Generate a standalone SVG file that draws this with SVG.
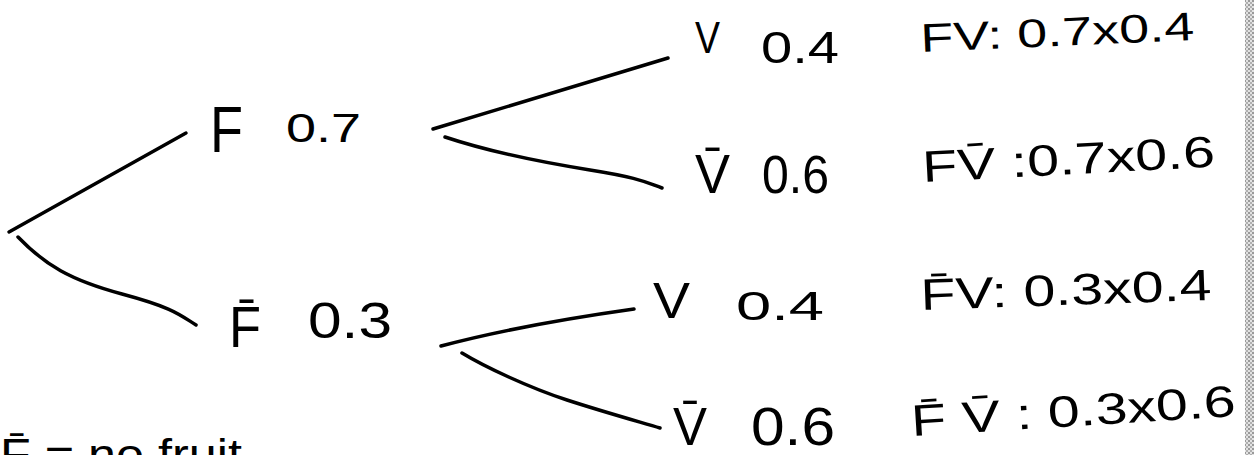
<svg xmlns="http://www.w3.org/2000/svg" width="1254" height="455" viewBox="0 0 1254 455">
<defs>
<style>
.t{font-family:"Liberation Sans","DejaVu Sans",sans-serif;fill:#000;font-weight:400}
.c{fill:none;stroke:#000;stroke-width:3.5;stroke-linecap:round;stroke-linejoin:round}
</style>
<pattern id="scan" width="4" height="4" patternUnits="userSpaceOnUse">
<rect width="4" height="4" fill="#e2e2e2"/>
<rect width="2" height="2" fill="#9a9a9a"/>
<rect x="2" y="2" width="2" height="2" fill="#b0b0b0"/>
</pattern>
</defs>
<rect width="1254" height="455" fill="#fff"/>
<rect x="1245" y="0" width="9" height="455" fill="url(#scan)"/>
<g id="connectors">
<path class="c" d="M9,232 L186,133"/>
<path class="c" d="M18,237 C45,265 70,280 122,294 S180,315 196,325"/>
<path class="c" d="M433,129 L668,58"/>
<path class="c" d="M445,137 C490,152 540,162 590,170 S645,182 662,188"/>
<path class="c" d="M441,346 Q520,325 634,309"/>
<path class="c" d="M462,353 C485,367 530,388 567,400 S640,422 660,428"/>
</g>
<g id="node-F">
<text class="t" x="210" y="152" font-size="64" textLength="33" lengthAdjust="spacingAndGlyphs">F</text>
<text class="t" x="286" y="142" font-size="41" textLength="75" lengthAdjust="spacingAndGlyphs">0.7</text>
</g>
<g id="node-Fbar">
<text class="t" x="229" y="347" font-size="58" textLength="32" lengthAdjust="spacingAndGlyphs">F̄</text>
<text class="t" x="308" y="338" font-size="50" textLength="84" lengthAdjust="spacingAndGlyphs">0.3</text>
</g>
<g id="node-FV">
<text class="t" x="695" y="53" font-size="44" textLength="25" lengthAdjust="spacingAndGlyphs">V</text>
<text class="t" x="761" y="63" font-size="44" textLength="78" lengthAdjust="spacingAndGlyphs">0.4</text>
</g>
<g id="node-FVbar">
<text class="t" x="695" y="193" font-size="56" textLength="35" lengthAdjust="spacingAndGlyphs">V̄</text>
<text class="t" x="762" y="193" font-size="54" textLength="67" lengthAdjust="spacingAndGlyphs">0.6</text>
</g>
<g id="node-FbarV">
<text class="t" x="653" y="318" font-size="50" textLength="37" lengthAdjust="spacingAndGlyphs">V</text>
<text class="t" x="736" y="320" font-size="40" textLength="88" lengthAdjust="spacingAndGlyphs">0.4</text>
</g>
<g id="node-FbarVbar">
<text class="t" x="673" y="445" font-size="54" textLength="34" lengthAdjust="spacingAndGlyphs">V̄</text>
<text class="t" x="751" y="445" font-size="54" textLength="84" lengthAdjust="spacingAndGlyphs">0.6</text>
</g>
<g id="results">
<text class="t" x="921" y="52" font-size="40" textLength="274" lengthAdjust="spacingAndGlyphs" transform="rotate(-2.5 921 52)">FV: 0.7x0.4</text>
<text class="t" x="923" y="182" font-size="44" textLength="293" lengthAdjust="spacingAndGlyphs" transform="rotate(-3 923 182)">FV̄ :0.7x0.6</text>
<text class="t" x="921" y="310" font-size="44" textLength="291" lengthAdjust="spacingAndGlyphs" transform="rotate(-2 921 310)">F̄V: 0.3x0.4</text>
<text class="t" x="912" y="436" font-size="44" textLength="325" lengthAdjust="spacingAndGlyphs" transform="rotate(-3.5 912 436)">F̄ V̄ : 0.3x0.6</text>
</g>
<g id="legend">
<text class="t" x="0" y="470" font-size="44" textLength="242" lengthAdjust="spacingAndGlyphs">F̄ = no fruit</text>
</g>
</svg>
